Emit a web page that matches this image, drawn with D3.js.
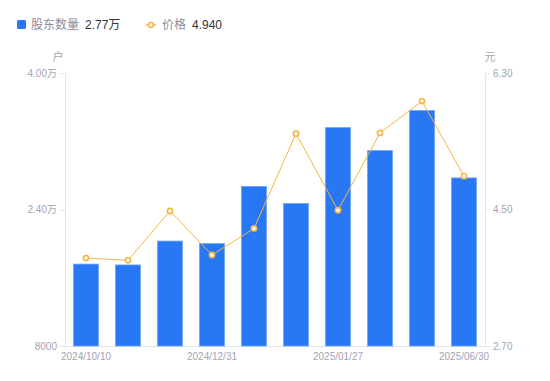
<!DOCTYPE html>
<html>
<head>
<meta charset="utf-8">
<script src="https://cdn.jsdelivr.net/npm/d3@7/dist/d3.min.js"></script>
<style>
  body { margin: 0; background: #fff; }
  text { font-family: "Liberation Sans", "Noto Sans CJK SC", sans-serif; }
</style>
</head>
<body>
<svg id="chart" width="550" height="381"></svg>
<script>
// holders (户) and price (元) per report date
var dates = ["2024/10/10", "2024/10/31", "2024/11/29", "2024/12/31", "2025/01/10",
             "2025/01/20", "2025/01/27", "2025/03/31", "2025/04/30", "2025/06/30"];
var holders = [17600, 17500, 20300, 20000, 26700, 24700, 33600, 30900, 35600, 27700];
var prices = [3.86, 3.83, 4.48, 3.90, 4.25, 5.50, 4.49, 5.51, 5.93, 4.94];
var leftTicks = [8000, 24000, 40000];
var rightTicks = [2.70, 4.50, 6.30];
var shownDates = ["2024/10/10", "2024/12/31", "2025/01/27", "2025/06/30"];

var svg = d3.select("#chart");
var margin = {top: 73, right: 65, bottom: 35, left: 65},
    width = 550 - margin.left - margin.right,
    height = 381 - margin.top - margin.bottom;
var g = svg.append("g").attr("transform", "translate(" + margin.left + "," + margin.top + ")");

var x = d3.scaleBand().domain(dates).range([0, width]).paddingInner(0.4048).paddingOuter(0.2024);
var yL = d3.scaleLinear().domain([8000, 40000]).range([height, 0]);
var yR = d3.scaleLinear().domain([2.7, 6.3]).range([height, 0]);

var axisColor = "#e3e3e8", labelColor = "#a3a3b3";

function fmtL(d) { return d >= 10000 ? (d / 10000).toFixed(2) + "万" : String(d); }

// left axis
var la = g.append("g").call(d3.axisLeft(yL).tickValues(leftTicks).tickFormat(fmtL).tickSize(5).tickPadding(3));
// right axis
var ra = g.append("g").attr("transform", "translate(" + width + ",0)")
    .call(d3.axisRight(yR).tickValues(rightTicks).tickFormat(d3.format(".2f")).tickSize(5).tickPadding(3));
// x axis
var xa = g.append("g").attr("transform", "translate(0," + height + ")")
    .call(d3.axisBottom(x).tickValues(shownDates).tickSize(0).tickPadding(7));

[la, ra, xa].forEach(function(a) {
  a.select(".domain").attr("stroke", axisColor);
  a.selectAll(".tick line").attr("stroke", axisColor);
  a.selectAll(".tick text").attr("fill", labelColor).style("font-size", "10px");
});
xa.select(".domain").attr("d", "M-5,0.5H" + (width + 5));

// unit labels
svg.append("text").attr("x", 58).attr("y", 61).attr("text-anchor", "middle")
  .attr("fill", labelColor).style("font-size", "11px").text("户");
svg.append("text").attr("x", 490).attr("y", 61).attr("text-anchor", "middle")
  .attr("fill", labelColor).style("font-size", "11px").text("元");

// bars
g.selectAll(".bar").data(holders).enter().append("rect")
  .attr("x", function(d, i) { return x(dates[i]); })
  .attr("y", function(d) { return yL(d); })
  .attr("width", x.bandwidth())
  .attr("height", function(d) { return height - yL(d); })
  .attr("fill", "#2878f5")
  .attr("stroke", "#6aa3f8")
  .attr("stroke-width", 0.8);

// price line
var line = d3.line()
  .x(function(d, i) { return x(dates[i]) + x.bandwidth() / 2; })
  .y(function(d) { return yR(d); });
g.append("path").datum(prices).attr("d", line)
  .attr("fill", "none").attr("stroke", "#f8b441").attr("stroke-width", 1);
g.selectAll(".pt").data(prices).enter().append("circle")
  .attr("cx", function(d, i) { return x(dates[i]) + x.bandwidth() / 2; })
  .attr("cy", function(d) { return yR(d); })
  .attr("r", 2.6)
  .attr("fill", "#fff").attr("stroke", "#f8b441").attr("stroke-width", 1.6);

// legend
var lg = svg.append("g");
lg.append("rect").attr("x", 17).attr("y", 20).attr("width", 9).attr("height", 9).attr("rx", 1.5).attr("fill", "#2878f5");
lg.append("text").attr("x", 31).attr("y", 29).attr("fill", "#8c8c9c").style("font-size", "12px").text("股东数量");
lg.append("text").attr("x", 85).attr("y", 29).attr("fill", "#333").style("font-size", "12px").text((holders[holders.length - 1] / 10000).toFixed(2) + "万");
lg.append("line").attr("x1", 146).attr("x2", 156).attr("y1", 25).attr("y2", 25).attr("stroke", "#f8b441").attr("stroke-width", 1.5);
lg.append("circle").attr("cx", 151).attr("cy", 25).attr("r", 2.4).attr("fill", "#fff").attr("stroke", "#f8b441").attr("stroke-width", 1.5);
lg.append("text").attr("x", 162).attr("y", 29).attr("fill", "#8c8c9c").style("font-size", "12px").text("价格");
lg.append("text").attr("x", 192).attr("y", 29).attr("fill", "#333").style("font-size", "12px").text(prices[prices.length - 1].toFixed(3));
</script>
</body>
</html>
